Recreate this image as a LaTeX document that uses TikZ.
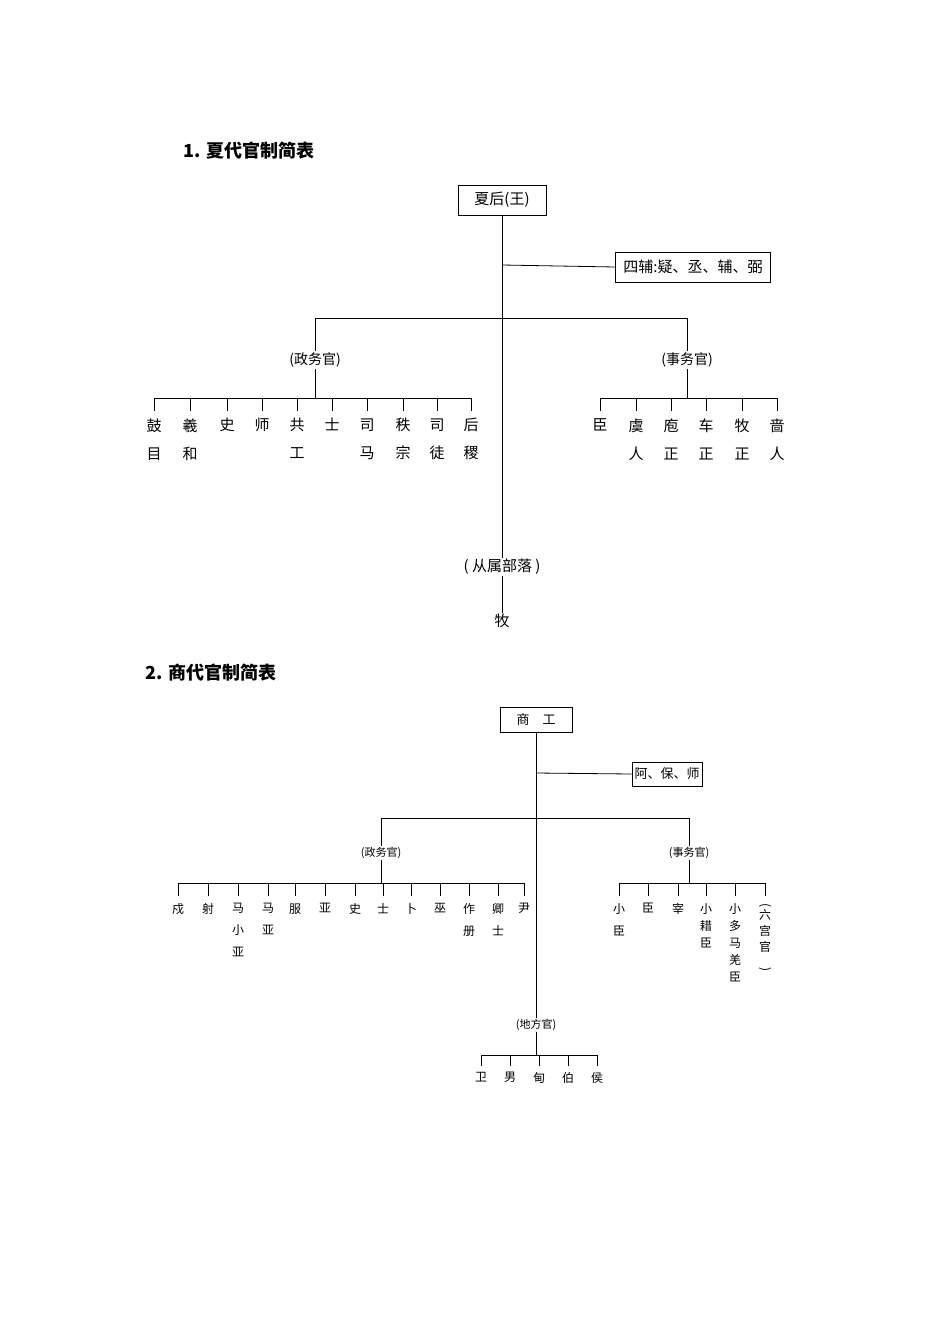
\documentclass[tikz,border=0pt]{standalone}
\usepackage{fontspec}
\setmainfont{Noto Sans CJK SC}
\newfontfamily\cjkb{Noto Sans CJK SC}[BoldFont={Noto Sans CJK SC Bold}]
\begin{document}
\begin{tikzpicture}[x=1pt,y=-1pt,line width=0.8pt,
  box/.style={draw,inner sep=0pt},
  xt/.style={font=\fontsize{15}{28}\selectfont,align=center,anchor=north,inner sep=0pt},
  st/.style={font=\fontsize{12}{22}\selectfont,align=center,anchor=north,inner sep=0pt},
  lab/.style={font=\fontsize{14}{16}\selectfont,inner sep=1pt},
  slab/.style={font=\fontsize{11}{13}\selectfont,inner sep=1pt},
  ttl/.style={font=\fontsize{18}{20}\selectfont\bfseries,anchor=west,inner sep=0pt}]
\path[use as bounding box] (0,0) rectangle (950,1344);
\node[ttl] (t1) at (183,151) {1. 夏代官制简表};
\node[ttl] (t2) at (145,673) {2. 商代官制简表};
% Xia
\node[box,minimum width=88,minimum height=30,font=\fontsize{15}{16}\selectfont] (xk) at (502,200) {夏后(王)};
\node[box,minimum width=155,minimum height=30,font=\fontsize{15}{16}\selectfont] (sf) at (693,267) {四辅:疑、丞、辅、弼};
\node[lab] (zw) at (315,360) {(政务官)};
\node[lab] (sw) at (687,360) {(事务官)};
\node[font=\fontsize{15}{16}\selectfont,inner sep=1pt] (cs) at (502,567) {( 从属部落 )};
\node[font=\fontsize{15}{16}\selectfont,inner sep=1pt] (mu) at (502,621) {牧};
\coordinate (j1) at (502,265);
\coordinate (j2) at (502,318);
\draw (xk.south) -- (cs.north);
\draw (j1) -- (sf.west);
\draw (315,318) -- (687,318);
\draw (315,318) -- (zw.north); \draw (687,318) -- (sw.north);
\draw (cs.south) -- (mu.north);
\draw (zw.south) -- (315,398); \draw (154,398) -- (471,398);
\draw (sw.south) -- (687,398); \draw (600,398) -- (777,398);
\foreach \x/\t in {154/鼓\\目,190/羲\\和,227/史,262/师,297/共\\工,332/士,367/司\\马,403/秩\\宗,437/司\\徒,471/后\\稷}{
  \draw (\x,398) -- (\x,411); \node[xt] at (\x,418) {\t};}
\foreach \x/\t in {600/臣,636/虞\\人,671/庖\\正,706/车\\正,742/牧\\正,777/啬\\人}{
  \draw (\x,398) -- (\x,411); \node[xt] at (\x,418) {\t};}
% Shang
\node[box,minimum width=72,minimum height=25,font=\fontsize{13}{14}\selectfont] (sk) at (536,720) {商\quad 工};
\node[box,minimum width=70,minimum height=24,font=\fontsize{13}{14}\selectfont] (abs) at (667,774) {阿、保、师};
\node[slab] (szw) at (381,853) {(政务官)};
\node[slab] (ssw) at (689,853) {(事务官)};
\node[slab] (df) at (536,1025) {(地方官)};
\draw (sk.south) -- (df.north);
\coordinate (k1) at (536,773);
\draw (k1) -- (abs.west);
\draw (381,818) -- (689,818);
\draw (381,818) -- (szw.north); \draw (689,818) -- (ssw.north);
\draw (szw.south) -- (381,883); \draw (178,883) -- (524,883);
\draw (ssw.south) -- (689,883); \draw (619,883) -- (765,883);
\foreach \x/\t in {178/戍,208/射,238/马\\小\\亚,268/马\\亚,295/服,325/亚,355/史,383/士,411/卜,440/巫,469/作\\册,498/卿\\士,524/尹}{
  \draw (\x,883) -- (\x,896); \node[st] at (\x,903) {\t};}
\foreach \x/\t in {619/小\\臣,648/臣,678/宰}{
  \draw (\x,883) -- (\x,896); \node[st] at (\x,903) {\t};}
\foreach \x/\t in {706/小\\耤\\臣,735/小\\多\\马\\羌\\臣}{
  \draw (\x,883) -- (\x,896); \node[st,font=\fontsize{12}{17}\selectfont] at (\x,903) {\t};}
\draw (765,883) -- (765,896);
\node[st,font=\fontsize{12}{16}\selectfont] at (765,903) {\rotatebox{-90}{(}\\六\\宫\\官\\\rotatebox{-90}{)}};
\draw (df.south) -- (536,1055); \draw (481,1055) -- (597,1055);
\foreach \x/\t in {481/卫,510/男,539/甸,568/伯,597/侯}{
  \draw (\x,1055) -- (\x,1066); \node[st] at (\x,1072) {\t};}
\end{tikzpicture}
\end{document}
